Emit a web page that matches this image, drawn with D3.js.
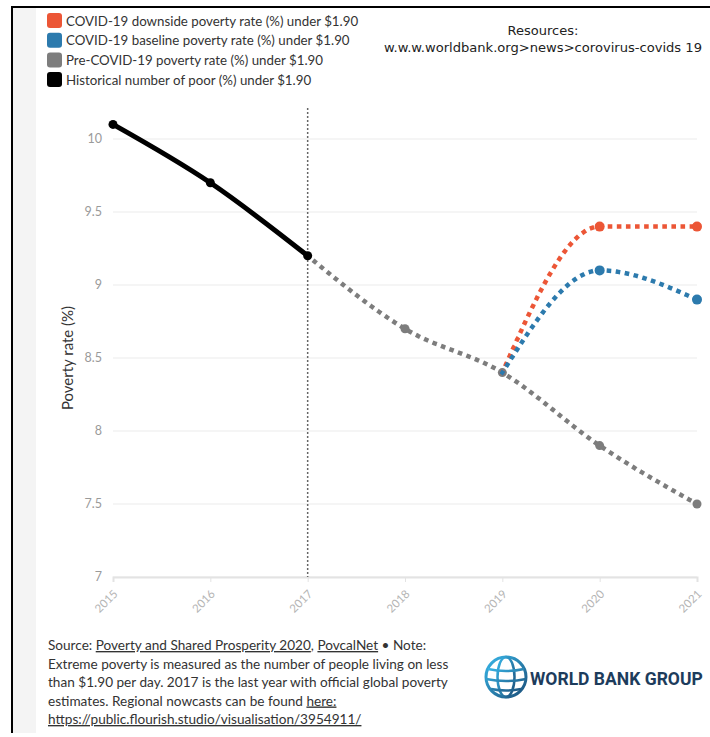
<!DOCTYPE html>
<html>
<head>
<meta charset="utf-8">
<script src="https://cdn.jsdelivr.net/npm/d3@7"></script>
<style>
  body { margin: 0; background: #fff; }
  svg { display: block; font-family: Lato, "Source Sans Pro", sans-serif; }
</style>
</head>
<body>
<div id="chart"></div>
<script>
// data
var years = [2015, 2016, 2017, 2018, 2019, 2020, 2021];
var yTicks = [7, 7.5, 8, 8.5, 9, 9.5, 10];
var historicalYears = [2015, 2016, 2017];
var historicalValues = [10.1, 9.7, 9.2];
var preCovidYears = [2017, 2018, 2019, 2020, 2021];
var preCovidValues = [9.2, 8.7, 8.4, 7.9, 7.5];
var baselineYears = [2019, 2020, 2021];
var baselineValues = [8.4, 9.1, 8.9];
var downsideYears = [2019, 2020, 2021];
var downsideValues = [8.4, 9.4, 9.4];
var legendLabels = [
  "COVID-19 downside poverty rate (%) under $1.90",
  "COVID-19 baseline poverty rate (%) under $1.90",
  "Pre-COVID-19 poverty rate (%) under $1.90",
  "Historical number of poor (%) under $1.90"
];
var legendColors = ["#ec5636", "#2c7aad", "#7d7d7d", "#000000"];

var W = 710, H = 737;
var svg = d3.select("#chart").append("svg").attr("width", W).attr("height", H);

// frame
svg.append("rect").attr("x", 13).attr("y", 8).attr("width", 23).attr("height", 725).attr("fill", "#f4f4f4");
svg.append("line").attr("x1", 12).attr("x2", 12).attr("y1", 7).attr("y2", 733).attr("stroke", "#000").attr("stroke-width", 2);
svg.append("line").attr("x1", 11).attr("x2", W).attr("y1", 7).attr("y2", 7).attr("stroke", "#000").attr("stroke-width", 2);

var x = d3.scaleLinear().domain([2015, 2021]).range([113, 697]);
var y = d3.scaleLinear().domain([7, 10]).range([577, 139]);

function pairs(xs, vs){ return xs.map(function(d, i){ return {year: d, value: vs[i]}; }); }

// grid
var g = svg.append("g");
g.selectAll(".grid").data(yTicks).enter().append("line")
  .attr("x1", 113).attr("x2", 697)
  .attr("y1", function(d){ return y(d); }).attr("y2", function(d){ return y(d); })
  .attr("stroke", "#ececec").attr("stroke-width", 1.2);

// y axis labels
g.selectAll(".ylab").data(yTicks).enter().append("text")
  .attr("x", 102).attr("y", function(d){ return y(d) + 4; })
  .attr("text-anchor", "end").attr("font-size", 12.5).attr("fill", "#9a9a9a")
  .text(function(d){ return d; });

svg.append("text")
  .attr("transform", "translate(73,358) rotate(-90)")
  .attr("text-anchor", "middle").attr("font-size", 15).attr("fill", "#333")
  .text("Poverty rate (%)");

// x axis
var xAxis = svg.append("g").attr("transform", "translate(0,577)")
  .call(d3.axisBottom(x).tickValues(years).tickFormat(d3.format("d")).tickSize(5));
xAxis.select(".domain").attr("stroke", "#e3e3e3").attr("stroke-width", 2);
xAxis.selectAll(".tick line").attr("stroke", "#e3e3e3");
xAxis.selectAll(".tick text")
  .attr("fill", "#b5b5b5").attr("font-size", 11.5).attr("font-family", "Lato, sans-serif")
  .attr("text-anchor", "end").attr("dy", 0).attr("y", 16).attr("x", -9)
  .attr("transform", "rotate(-45)");

// 2017 marker line
svg.append("line")
  .attr("x1", x(2017)).attr("x2", x(2017)).attr("y1", 108).attr("y2", 577)
  .attr("stroke", "#666").attr("stroke-width", 1.5).attr("stroke-dasharray", "2,2");

var line = d3.line().x(function(d){ return x(d.year); }).y(function(d){ return y(d.value); })
  .curve(d3.curveMonotoneX);

function drawSeries(data, color, dotted, width, pts, r){
  svg.append("path").datum(data)
    .attr("fill", "none").attr("stroke", color).attr("stroke-width", width)
    .attr("stroke-linecap", dotted ? "square" : "round")
    .attr("stroke-dasharray", dotted ? "0.1,9" : null)
    .attr("d", line);
  svg.selectAll(null).data(pts).enter().append("circle")
    .attr("cx", function(d){ return x(d.year); }).attr("cy", function(d){ return y(d.value); })
    .attr("r", r).attr("fill", color);
}

var pre = pairs(preCovidYears, preCovidValues);
var base = pairs(baselineYears, baselineValues);
var down = pairs(downsideYears, downsideValues);
var hist = pairs(historicalYears, historicalValues);

drawSeries(pre, legendColors[2], true, 4.5, pre.slice(1), 4.5);
drawSeries(down, legendColors[0], true, 4.5, down.slice(1), 5);
drawSeries(base, legendColors[1], true, 4.5, base.slice(1), 5);
drawSeries(hist, legendColors[3], false, 5, hist, 4.5);

// legend
var lg = svg.append("g");
lg.selectAll("rect").data(legendLabels).enter().append("rect")
  .attr("x", 47).attr("y", function(d, i){ return 13 + i * 19.7; })
  .attr("width", 15).attr("height", 15).attr("rx", 3)
  .attr("fill", function(d, i){ return legendColors[i]; });
lg.selectAll("text").data(legendLabels).enter().append("text")
  .attr("x", 66).attr("y", function(d, i){ return 25.5 + i * 19.7; })
  .attr("font-size", 13.3).attr("fill", "#333")
  .text(function(d){ return d; });

// resources note
svg.append("text").attr("x", 543).attr("y", 35).attr("text-anchor", "middle")
  .attr("font-family", "'DejaVu Sans', Verdana, sans-serif").attr("font-size", 13).attr("fill", "#222")
  .text("Resources:");
svg.append("text").attr("x", 543).attr("y", 52).attr("text-anchor", "middle")
  .attr("font-family", "'DejaVu Sans', Verdana, sans-serif").attr("font-size", 13).attr("fill", "#222")
  .attr("textLength", 318).attr("lengthAdjust", "spacingAndGlyphs")
  .text("w.w.w.worldbank.org>news>corovirus-covids 19");

// footer
var foot = svg.append("text").attr("font-size", 13.6).attr("fill", "#333");
var l1 = foot.append("tspan").attr("x", 48).attr("y", 650);
l1.append("tspan").text("Source: ");
l1.append("tspan").attr("text-decoration", "underline").text("Poverty and Shared Prosperity 2020");
l1.append("tspan").text(", ");
l1.append("tspan").attr("text-decoration", "underline").text("PovcalNet");
l1.append("tspan").text(" \u2022 Note:");
foot.append("tspan").attr("x", 48).attr("y", 668.5).text("Extreme poverty is measured as the number of people living on less");
foot.append("tspan").attr("x", 48).attr("y", 687).text("than $1.90 per day. 2017 is the last year with official global poverty");
var l4 = foot.append("tspan").attr("x", 48).attr("y", 705.5);
l4.append("tspan").text("estimates. Regional nowcasts can be found ");
l4.append("tspan").attr("text-decoration", "underline").text("here:");
foot.append("tspan").attr("x", 48).attr("y", 724).attr("text-decoration", "underline")
  .text("https://public.flourish.studio/visualisation/3954911/");

// logo
var logo = svg.append("g").attr("transform", "translate(506,677)");
var grad = svg.append("defs").append("linearGradient").attr("id", "gl")
  .attr("x1", "0").attr("y1", "0").attr("x2", "1").attr("y2", "1");
grad.append("stop").attr("offset", "0").attr("stop-color", "#38b6e8");
grad.append("stop").attr("offset", "1").attr("stop-color", "#1b4f7a");
logo.append("circle").attr("r", 20).attr("fill", "none").attr("stroke", "url(#gl)").attr("stroke-width", 3);
logo.append("ellipse").attr("rx", 8.5).attr("ry", 20).attr("fill", "none").attr("stroke", "url(#gl)").attr("stroke-width", 2.5);
logo.append("line").attr("x1", 0).attr("x2", 0).attr("y1", -20).attr("y2", 20).attr("stroke", "url(#gl)").attr("stroke-width", 2.5);
logo.append("path").attr("d", "M-18,-8 Q0,-4 18,-8 M-20,2 Q0,6 20,2 M-15,12 Q0,15 15,12")
  .attr("fill", "none").attr("stroke", "url(#gl)").attr("stroke-width", 2.5);
var wb = svg.append("text").attr("x", 0).attr("y", 0)
  .attr("font-family", "Roboto, 'Open Sans', sans-serif").attr("font-weight", 700)
  .attr("font-size", 19).attr("fill", "#1d3c5c")
  .text("WORLD BANK GROUP");
var wbLen = wb.node().getComputedTextLength();
wb.attr("transform", "translate(530,685) scale(" + (173 / wbLen) + ",1)");
</script>
</body>
</html>
